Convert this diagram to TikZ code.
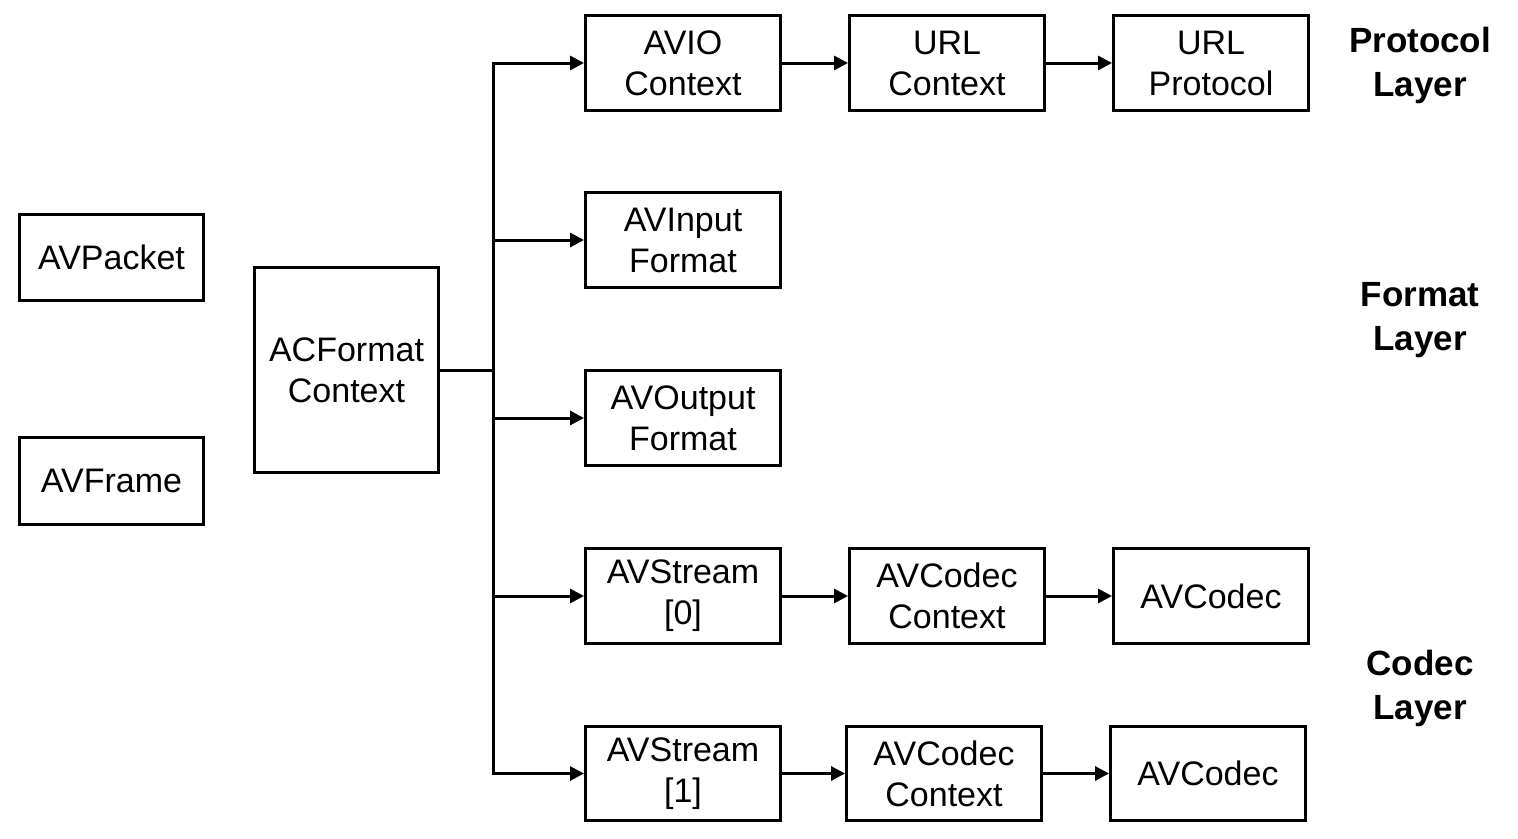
\documentclass[tikz,border=0pt]{standalone}
\usepackage{fontspec}
\setmainfont{Liberation Sans}
\usetikzlibrary{arrows.meta}
\begin{document}
\begin{tikzpicture}[x=1pt,y=-1pt,
  box/.style={draw,line width=3pt,inner sep=0pt,align=center,font=\fontsize{34}{41}\selectfont},
  layer/.style={align=center,font=\fontsize{35}{44}\selectfont\bfseries},
  conn/.style={line width=3pt,-{Triangle[length=14pt,width=14pt]}},
  trunk/.style={line width=3pt,line cap=rect}]
\useasboundingbox (0,0) rectangle (1518,838);
\newcommand{\bx}[6]{\node[box,minimum width=#4-#2-3pt,minimum height=#5-#3-3pt] (#1) at ({(#2+#4)/2},{(#3+#5)/2}) {#6};}
\bx{pkt}{18}{213}{205}{302}{AVPacket}
\bx{frm}{18}{436}{205}{526}{AVFrame}
\bx{fmt}{253}{266}{440}{474}{ACFormat\\Context}
\bx{avio}{584}{14}{782}{112}{AVIO\\Context}
\bx{urlc}{848}{14}{1046}{112}{URL\\Context}
\bx{urlp}{1112}{14}{1310}{112}{URL\\Protocol}
\bx{inf}{584}{191}{782}{289}{AVInput\\Format}
\bx{outf}{584}{369}{782}{467}{AVOutput\\Format}
\bx{st0}{584}{547}{782}{645}{AVStream\\{}[0]}
\bx{cc0}{848}{547}{1046}{645}{AVCodec\\Context}
\bx{c0}{1112}{547}{1310}{645}{AVCodec}
\bx{st1}{584}{725}{782}{822}{AVStream\\{}[1]}
\bx{cc1}{845}{725}{1043}{822}{AVCodec\\Context}
\bx{c1}{1109}{725}{1307}{822}{AVCodec}
\node[layer] (lp) at (1420,65) {Protocol\\Layer};
\node[layer] (lf) at (1420,320) {Format\\Layer};
\node[layer] (lc) at (1420,688) {Codec\\Layer};
\coordinate (jt) at (493,0 |- avio.west);
\coordinate (j) at (jt |- fmt.east);
\coordinate (jb) at (jt |- st1.west);
\draw[trunk] (fmt.east) -- (j);
\draw[trunk] (jt) -- (jb);
\draw[conn] (jt) -- (avio.west);
\draw[conn] (jt |- inf.west) -- (inf.west);
\draw[conn] (jt |- outf.west) -- (outf.west);
\draw[conn] (jt |- st0.west) -- (st0.west);
\draw[conn] (jb) -- (st1.west);
\draw[conn] (avio) -- (urlc);
\draw[conn] (urlc) -- (urlp);
\draw[conn] (st0) -- (cc0);
\draw[conn] (cc0) -- (c0);
\draw[conn] (st1) -- (cc1);
\draw[conn] (cc1) -- (c1);
\end{tikzpicture}
\end{document}
